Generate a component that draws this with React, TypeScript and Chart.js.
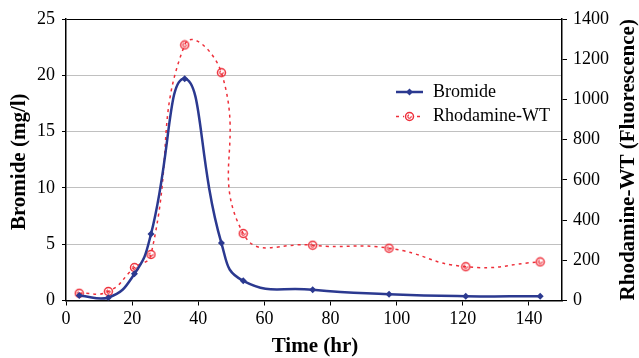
import React, { useEffect, useRef } from "react";
import { Chart, registerables } from "chart.js";

Chart.register(...registerables);

const timeHr = [4, 12.8, 20.7, 25.7, 35.9, 47, 53.6, 74.6, 97.7, 120.9, 143.4];
const bromide = [0.45, 0.25, 2.37, 5.9, 19.7, 5.1, 1.75, 0.95, 0.56, 0.38, 0.38];
const rhodamine = [36, 45, 164, 229, 1271, 1133, 333, 275, 260, 168, 192];
const xTicks = [0, 20, 40, 60, 80, 100, 120, 140];
const seriesNames = ["Bromide", "Rhodamine-WT"];
const titleX = "Time (hr)";
const titleY = "Bromide (mg/l)";
const titleY1 = "Rhodamine-WT (Fluorescence)";

const NAVY = "#2b3990";
const RED = "#ee2f3a";
const SERIF = "'Liberation Serif', 'Times New Roman', serif";

function makeCircleMarker(): HTMLCanvasElement {
  const c = document.createElement("canvas");
  c.width = 11;
  c.height = 11;
  const g = c.getContext("2d")!;
  g.strokeStyle = RED;
  g.lineWidth = 1.5;
  g.beginPath();
  g.arc(5.5, 5.5, 4, 0, Math.PI * 2);
  g.stroke();
  g.lineWidth = 1.1;
  g.beginPath();
  g.arc(5.5, 5.5, 1.7, -0.3, Math.PI * 1.4);
  g.stroke();
  return c;
}

export default function App() {
  const ref = useRef<HTMLCanvasElement | null>(null);

  useEffect(() => {
    if (!ref.current) return;
    const circle = makeCircleMarker();

    const overlay = {
      id: "overlay",
      afterDraw(chart: any) {
        const { ctx, chartArea } = chart;
        ctx.save();
        ctx.fillStyle = "#000";
        ctx.font = `bold 21px ${SERIF}`;
        ctx.textAlign = "center";
        ctx.textBaseline = "middle";
        const cy = (chartArea.top + chartArea.bottom) / 2;
        ctx.save();
        ctx.translate(20, cy + 2);
        ctx.rotate(-Math.PI / 2);
        ctx.fillText(titleY, 0, 0);
        ctx.restore();
        ctx.save();
        ctx.translate(629, cy);
        ctx.rotate(-Math.PI / 2);
        ctx.fillText(titleY1, 0, 0);
        ctx.restore();
        ctx.fillText(titleX, 315, 347);

        const rows = [92, 116.5];
        ctx.font = `18px ${SERIF}`;
        ctx.textAlign = "left";
        ctx.strokeStyle = NAVY;
        ctx.lineWidth = 2.5;
        ctx.setLineDash([]);
        ctx.beginPath();
        ctx.moveTo(396, rows[0]);
        ctx.lineTo(423, rows[0]);
        ctx.stroke();
        ctx.fillStyle = NAVY;
        ctx.beginPath();
        ctx.moveTo(409.5, rows[0] - 3.5);
        ctx.lineTo(413, rows[0]);
        ctx.lineTo(409.5, rows[0] + 3.5);
        ctx.lineTo(406, rows[0]);
        ctx.closePath();
        ctx.fill();
        ctx.strokeStyle = RED;
        ctx.lineWidth = 1.5;
        ctx.setLineDash([3, 4]);
        ctx.beginPath();
        ctx.moveTo(396, rows[1]);
        ctx.lineTo(424, rows[1]);
        ctx.stroke();
        ctx.setLineDash([]);
        ctx.fillStyle = "#fff";
        ctx.fillRect(404, rows[1] - 5, 11, 10);
        ctx.drawImage(circle, 404, rows[1] - 5.5);
        ctx.fillStyle = "#000";
        ctx.fillText(seriesNames[0], 433, rows[0]);
        ctx.fillText(seriesNames[1], 433, rows[1]);
        ctx.restore();
      },
    };

    const chart = new Chart(ref.current, {
      type: "line",
      data: {
        datasets: [
          {
            label: seriesNames[0],
            data: timeHr.map((t, i) => ({ x: t, y: bromide[i] })),
            borderColor: NAVY,
            backgroundColor: NAVY,
            borderWidth: 2.5,
            pointStyle: "rectRot",
            pointRadius: 3.5,
            pointBorderWidth: 0,
            tension: 0.5,
            yAxisID: "y",
          },
          {
            label: seriesNames[1],
            data: timeHr.map((t, i) => ({ x: t, y: rhodamine[i] })),
            borderColor: RED,
            backgroundColor: "rgba(0,0,0,0)",
            borderWidth: 1.5,
            borderDash: [3, 4],
            pointStyle: circle as any,
            pointRadius: 4,
            tension: 0.5,
            yAxisID: "y1",
          },
        ],
      },
      options: {
        animation: false,
        responsive: true,
        maintainAspectRatio: false,
        layout: { padding: { top: 19, right: 0, left: 0, bottom: 0 } },
        plugins: {
          legend: { display: false },
          tooltip: { enabled: false },
        },
        scales: {
          x: {
            type: "linear",
            min: 0,
            max: 150,
            afterBuildTicks: (s: any) => {
              s.ticks = xTicks.map((v) => ({ value: v }));
            },
            afterFit: (s: any) => {
              s.height = 57.5;
            },
            grid: {
              drawOnChartArea: false,
              tickLength: 5,
              color: "#000",
              tickColor: "#000",
            },
            border: { display: true, color: "#000", width: 1.5 },
            ticks: {
              color: "#000",
              font: { family: SERIF, size: 18 },
              padding: 3,
              maxRotation: 0,
              autoSkip: false,
              callback: (v: any) => String(v),
            },
          },
          y: {
            type: "linear",
            position: "left",
            min: 0,
            max: 25,
            afterFit: (s: any) => {
              s.width = 66;
            },
            grid: {
              color: (c: any) => (c.tick && c.tick.value === 25 ? "#000" : "#c0c0c0"),
              tickColor: "#000",
              tickLength: 4,
              lineWidth: 1,
            },
            border: { display: true, color: "#000", width: 1.5 },
            ticks: {
              stepSize: 5,
              color: "#000",
              font: { family: SERIF, size: 18 },
              padding: 7,
              callback: (v: any) => String(v),
            },
          },
          y1: {
            type: "linear",
            position: "right",
            min: 0,
            max: 1400,
            afterFit: (s: any) => {
              s.width = 77;
            },
            grid: {
              drawOnChartArea: false,
              tickColor: "#000",
              tickLength: 5,
            },
            border: { display: true, color: "#000", width: 1.5 },
            ticks: {
              stepSize: 200,
              color: "#000",
              font: { family: SERIF, size: 18 },
              padding: 6,
              callback: (v: any) => String(v),
            },
          },
        },
      },
      plugins: [overlay],
    });

    return () => chart.destroy();
  }, []);

  return (
    <div style={{ position: "fixed", left: 0, top: 0, width: 639, height: 358, background: "#fff" }}>
      <canvas ref={ref} />
    </div>
  );
}
